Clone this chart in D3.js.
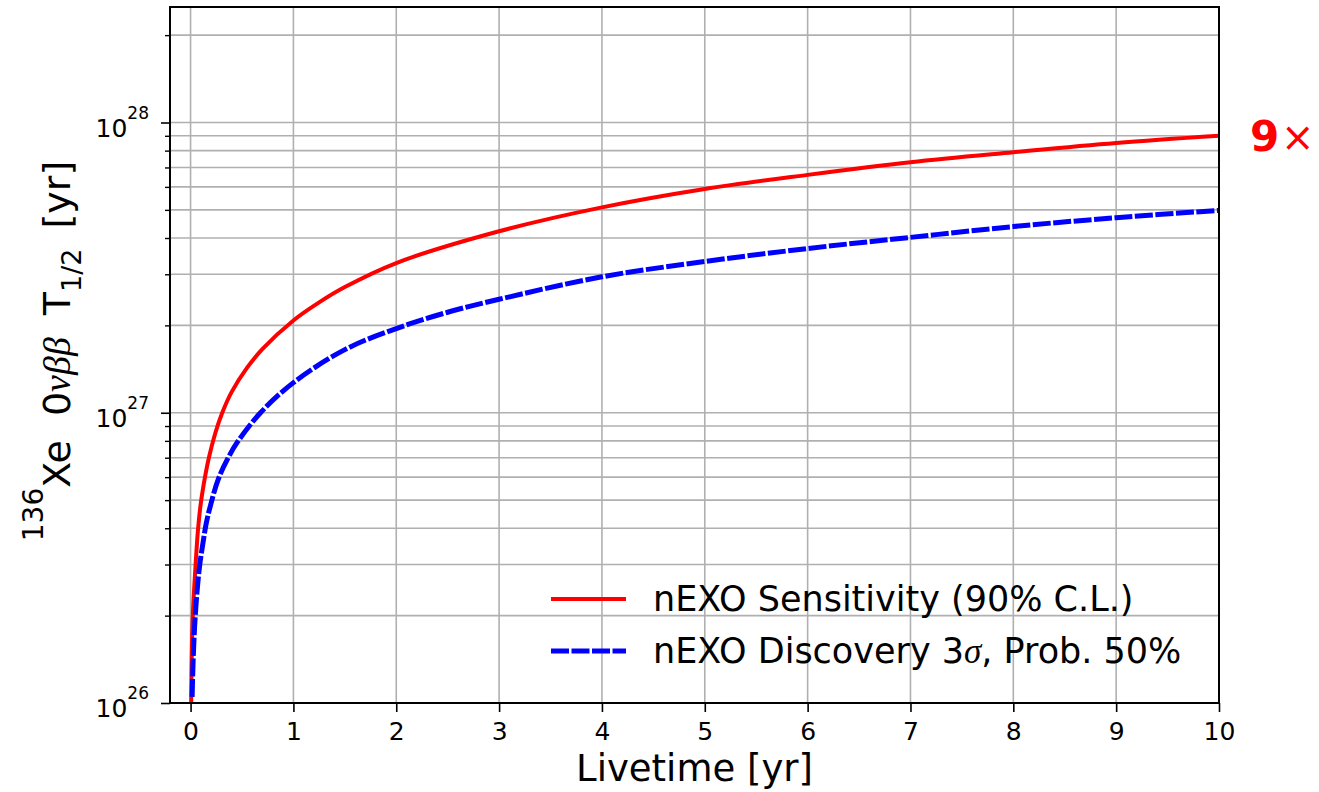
<!DOCTYPE html>
<html>
<head>
<meta charset="utf-8">
<script src="https://cdn.jsdelivr.net/npm/d3@7"></script>
<style>
  body { margin: 0; background: #fff; }
  svg { display: block; font-family: "DejaVu Sans", sans-serif; }
</style>
</head>
<body>
<svg id="chart" width="1319" height="792"></svg>
<script>
// values
const xTicks = [0, 1, 2, 3, 4, 5, 6, 7, 8, 9, 10];
const yDecades = [1e26, 1e27, 1e28];
const yDecadeExp = ['26', '27', '28'];

const sensLivetime = [0.006, 0.012, 0.023, 0.049, 0.071, 0.097, 0.14, 0.178, 0.24, 0.308, 0.4, 0.55, 0.7, 1, 1.25, 1.5, 2, 3, 4, 5, 6, 7, 8, 9, 10];
const sensHalfLife = [1.0e26, 1.5e26, 2.05e26, 3.0e26, 3.9e26, 4.8e26, 6.0e26, 7.0e26, 8.5e26, 1.0e27, 1.18e27, 1.43e27, 1.66e27, 2.08e27, 2.4e27, 2.71e27, 3.28e27, 4.22e27, 5.1e27, 5.9e27, 6.6e27, 7.3e27, 7.9e27, 8.5e27, 9.0e27];

const discLivetime = [0.015, 0.025, 0.04, 0.06, 0.087, 0.12, 0.152, 0.194, 0.269, 0.366, 0.453, 0.68, 1, 1.5, 2, 2.5, 3, 4, 5, 6, 7, 8, 9, 10];
const discHalfLife = [1.05e26, 1.4e26, 1.85e26, 2.35e26, 2.95e26, 3.55e26, 4.15e26, 4.8e26, 5.9e26, 7.0e26, 7.9e26, 1.0e27, 1.27e27, 1.65e27, 1.95e27, 2.22e27, 2.46e27, 2.94e27, 3.32e27, 3.68e27, 4.02e27, 4.38e27, 4.7e27, 4.98e27];

const svg = d3.select('#chart');
const W = 1319, H = 792;
const m = { left: 170, right: 1219, top: 7, bottom: 703 };

svg.append('rect').attr('width', W).attr('height', H).attr('fill', '#fff');

const x = d3.scaleLinear().domain([-0.2, 10]).range([m.left, m.right]);
const y = d3.scaleLog().domain([1e26, 2.5e28]).range([m.bottom, m.top]);

const gridColor = '#b0b0b0';

// grid
const grid = svg.append('g');
grid.selectAll('line.gx').data(xTicks).enter().append('line')
  .attr('x1', d => x(d)).attr('x2', d => x(d)).attr('y1', m.top).attr('y2', m.bottom)
  .attr('stroke', gridColor).attr('stroke-width', 1.6);
grid.selectAll('line.gy').data(y.ticks()).enter().append('line')
  .attr('x1', m.left).attr('x2', m.right).attr('y1', d => y(d)).attr('y2', d => y(d))
  .attr('stroke', gridColor).attr('stroke-width', 1.6);

// curves
svg.append('clipPath').attr('id', 'plot-clip').append('rect')
  .attr('x', m.left).attr('y', m.top).attr('width', m.right - m.left).attr('height', m.bottom - m.top);

const line = d3.line().x(d => x(d[0])).y(d => y(d[1])).curve(d3.curveCatmullRom.alpha(0.5));
const curves = svg.append('g').attr('clip-path', 'url(#plot-clip)');
curves.append('path').datum(d3.zip(sensLivetime, sensHalfLife)).attr('d', line)
  .attr('fill', 'none').attr('stroke', '#ff0000').attr('stroke-width', 4);
curves.append('path').datum(d3.zip(discLivetime, discHalfLife)).attr('d', line)
  .attr('fill', 'none').attr('stroke', '#0000ff').attr('stroke-width', 5)
  .attr('stroke-dasharray', '18,2.5');

// axes
const xAxis = svg.append('g').attr('transform', `translate(0,${m.bottom})`)
  .call(d3.axisBottom(x).tickValues(xTicks).tickSize(9).tickPadding(10).tickFormat(d3.format('d')));
xAxis.select('.domain').remove();
xAxis.selectAll('line').attr('stroke', '#000').attr('stroke-width', 1.6);
xAxis.selectAll('text').attr('font-size', 25).attr('font-family', 'DejaVu Sans').attr('fill', '#000');

const yMinor = svg.append('g').attr('transform', `translate(${m.left},0)`)
  .call(d3.axisLeft(y).tickValues(y.ticks().filter(d => !yDecades.includes(d))).tickSize(5).tickFormat(''));
yMinor.select('.domain').remove();
yMinor.selectAll('line').attr('stroke', '#000').attr('stroke-width', 1.4);

const yMajor = svg.append('g').attr('transform', `translate(${m.left},0)`)
  .call(d3.axisLeft(y).tickValues(yDecades).tickSize(9).tickFormat(''));
yMajor.select('.domain').remove();
yMajor.selectAll('line').attr('stroke', '#000').attr('stroke-width', 1.6);

const yLab = svg.append('g').selectAll('text').data(yDecades).enter().append('text')
  .attr('x', 149).attr('y', d => y(d) + 14).attr('text-anchor', 'end').attr('fill', '#000');
yLab.append('tspan').attr('font-size', 25).text('10');
yLab.append('tspan').attr('font-size', 17).attr('dy', -18).text((d, i) => yDecadeExp[i]);

// frame
svg.append('rect').attr('x', m.left).attr('y', m.top)
  .attr('width', m.right - m.left).attr('height', m.bottom - m.top)
  .attr('fill', 'none').attr('stroke', '#000').attr('stroke-width', 2);

// x label
svg.append('text').attr('x', (m.left + m.right) / 2).attr('y', 781).attr('text-anchor', 'middle')
  .attr('font-size', 37).attr('fill', '#000').text('Livetime [yr]');

// y label
const yl = svg.append('text').attr('transform', 'translate(70,351) rotate(-90)')
  .attr('text-anchor', 'middle').attr('font-size', 38).attr('fill', '#000');
yl.append('tspan').attr('font-size', 28).attr('dy', -27).text('136');
yl.append('tspan').attr('dy', 27).text('Xe');
yl.append('tspan').attr('dx', 24).text('0');
yl.append('tspan').attr('font-family', 'Liberation Serif').attr('font-style', 'italic').text('νββ');
yl.append('tspan').attr('dx', 22).text('T');
yl.append('tspan').attr('font-size', 27).attr('dy', 11).text('1/2');
yl.append('tspan').attr('dy', -11).attr('dx', 20).text('[yr]');

// "9x" annotation
svg.append('text').attr('x', 1250).attr('y', 151).attr('fill', '#ff0000')
  .attr('font-size', 42).attr('font-weight', 'bold').text('9');
svg.append('text').attr('x', 1281).attr('y', 151).attr('fill', '#ff0000')
  .attr('font-size', 40).text('×');

// legend
const legend = svg.append('g');
const legendRows = [
  { color: '#ff0000', width: 4, dash: null, y: 599 },
  { color: '#0000ff', width: 5, dash: '18,2.5', y: 651 }
];
legend.selectAll('line').data(legendRows).enter().append('line')
  .attr('x1', 551).attr('x2', 626).attr('y1', d => d.y).attr('y2', d => d.y)
  .attr('stroke', d => d.color).attr('stroke-width', d => d.width)
  .attr('stroke-dasharray', d => d.dash);
legend.append('text').attr('x', 653).attr('y', 611).attr('font-size', 35).attr('fill', '#000')
  .text('nEXO Sensitivity (90% C.L.)');
const t2 = legend.append('text').attr('x', 653).attr('y', 663).attr('font-size', 35).attr('fill', '#000');
t2.append('tspan').text('nEXO Discovery 3');
t2.append('tspan').attr('font-family', 'Liberation Serif').attr('font-style', 'italic').text('σ');
t2.append('tspan').text(', Prob. 50%');
</script>
</body>
</html>
